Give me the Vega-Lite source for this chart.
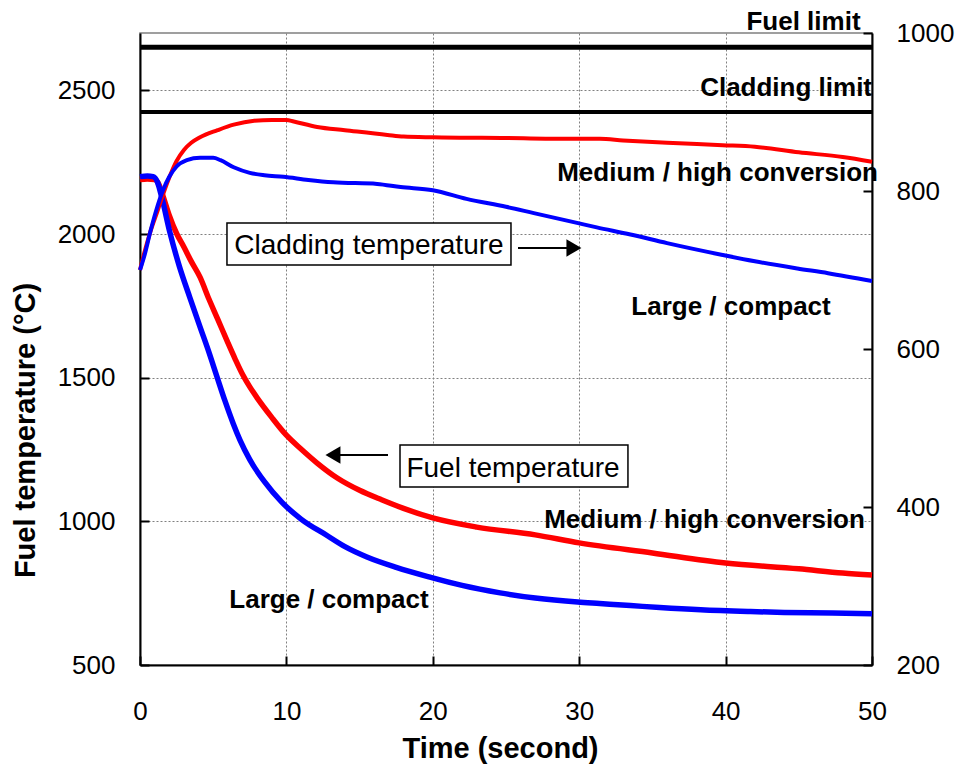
{
  "$schema": "https://vega.github.io/schema/vega-lite/v6.json",
  "width": 732,
  "height": 632,
  "autosize": {"type": "none"},
  "padding": {"left": 140, "top": 33, "right": 85, "bottom": 99},
  "background": "white",
  "config": {
    "view": {"stroke": "#808080", "strokeWidth": 1.5},
    "font": "Liberation Sans",
    "axis": {
      "labelFont": "Liberation Sans",
      "titleFont": "Liberation Sans",
      "labelFontSize": 26,
      "titleFontSize": 29,
      "titleFontWeight": "bold",
      "labelColor": "black",
      "titleColor": "black",
      "domainColor": "black",
      "domainWidth": 2,
      "tickColor": "black",
      "tickWidth": 2,
      "gridColor": "#808080",
      "gridDash": [2, 2],
      "gridWidth": 1,
      "labelOverlap": false,
      "format": "d"
    }
  },
  "datasets": {
    "fuel": [
      {"t": 0, "temp": 2190, "series": "Medium / high conversion"},
      {"t": 0.5, "temp": 2192, "series": "Medium / high conversion"},
      {"t": 1.0, "temp": 2190, "series": "Medium / high conversion"},
      {"t": 1.3, "temp": 2172, "series": "Medium / high conversion"},
      {"t": 1.6, "temp": 2128, "series": "Medium / high conversion"},
      {"t": 2.0, "temp": 2065, "series": "Medium / high conversion"},
      {"t": 2.5, "temp": 2002, "series": "Medium / high conversion"},
      {"t": 3.0, "temp": 1955, "series": "Medium / high conversion"},
      {"t": 3.5, "temp": 1905, "series": "Medium / high conversion"},
      {"t": 4.1, "temp": 1850, "series": "Medium / high conversion"},
      {"t": 4.7, "temp": 1775, "series": "Medium / high conversion"},
      {"t": 5.3, "temp": 1705, "series": "Medium / high conversion"},
      {"t": 6.0, "temp": 1622, "series": "Medium / high conversion"},
      {"t": 6.5, "temp": 1565, "series": "Medium / high conversion"},
      {"t": 7.0, "temp": 1512, "series": "Medium / high conversion"},
      {"t": 7.5, "temp": 1468, "series": "Medium / high conversion"},
      {"t": 8.0, "temp": 1430, "series": "Medium / high conversion"},
      {"t": 9.0, "temp": 1362, "series": "Medium / high conversion"},
      {"t": 10.0, "temp": 1300, "series": "Medium / high conversion"},
      {"t": 11.0, "temp": 1252, "series": "Medium / high conversion"},
      {"t": 12.1, "temp": 1203, "series": "Medium / high conversion"},
      {"t": 13.5, "temp": 1150, "series": "Medium / high conversion"},
      {"t": 15.0, "temp": 1108, "series": "Medium / high conversion"},
      {"t": 16.5, "temp": 1075, "series": "Medium / high conversion"},
      {"t": 18.0, "temp": 1045, "series": "Medium / high conversion"},
      {"t": 20, "temp": 1012, "series": "Medium / high conversion"},
      {"t": 23, "temp": 980, "series": "Medium / high conversion"},
      {"t": 27, "temp": 953, "series": "Medium / high conversion"},
      {"t": 30, "temp": 925, "series": "Medium / high conversion"},
      {"t": 35, "temp": 890, "series": "Medium / high conversion"},
      {"t": 40, "temp": 855, "series": "Medium / high conversion"},
      {"t": 45, "temp": 835, "series": "Medium / high conversion"},
      {"t": 48, "temp": 820, "series": "Medium / high conversion"},
      {"t": 50, "temp": 813, "series": "Medium / high conversion"},
      {"t": 0, "temp": 2200, "series": "Large / compact"},
      {"t": 0.5, "temp": 2202, "series": "Large / compact"},
      {"t": 0.9, "temp": 2200, "series": "Large / compact"},
      {"t": 1.2, "temp": 2180, "series": "Large / compact"},
      {"t": 1.5, "temp": 2125, "series": "Large / compact"},
      {"t": 2.05, "temp": 2004, "series": "Large / compact"},
      {"t": 2.7, "temp": 1886, "series": "Large / compact"},
      {"t": 3.4, "temp": 1780, "series": "Large / compact"},
      {"t": 4.1, "temp": 1677, "series": "Large / compact"},
      {"t": 4.7, "temp": 1590, "series": "Large / compact"},
      {"t": 5.26, "temp": 1503, "series": "Large / compact"},
      {"t": 5.8, "temp": 1420, "series": "Large / compact"},
      {"t": 6.37, "temp": 1340, "series": "Large / compact"},
      {"t": 6.83, "temp": 1283, "series": "Large / compact"},
      {"t": 7.5, "temp": 1215, "series": "Large / compact"},
      {"t": 8.5, "temp": 1138, "series": "Large / compact"},
      {"t": 9.7, "temp": 1066, "series": "Large / compact"},
      {"t": 11, "temp": 1008, "series": "Large / compact"},
      {"t": 12.8, "temp": 950, "series": "Large / compact"},
      {"t": 14, "temp": 912, "series": "Large / compact"},
      {"t": 15.5, "temp": 876, "series": "Large / compact"},
      {"t": 17.5, "temp": 840, "series": "Large / compact"},
      {"t": 19.8, "temp": 806, "series": "Large / compact"},
      {"t": 22, "temp": 777, "series": "Large / compact"},
      {"t": 24.6, "temp": 751, "series": "Large / compact"},
      {"t": 27, "temp": 733, "series": "Large / compact"},
      {"t": 29.9, "temp": 719, "series": "Large / compact"},
      {"t": 31.4, "temp": 714, "series": "Large / compact"},
      {"t": 33.5, "temp": 707, "series": "Large / compact"},
      {"t": 35.5, "temp": 700, "series": "Large / compact"},
      {"t": 38.3, "temp": 692, "series": "Large / compact"},
      {"t": 41.7, "temp": 686, "series": "Large / compact"},
      {"t": 44, "temp": 683, "series": "Large / compact"},
      {"t": 47.3, "temp": 681, "series": "Large / compact"},
      {"t": 50, "temp": 678, "series": "Large / compact"}
    ],
    "cladding": [
      {"t": 0, "temp": 700, "series": "Medium / high conversion"},
      {"t": 0.3, "temp": 722, "series": "Medium / high conversion"},
      {"t": 0.7, "temp": 748, "series": "Medium / high conversion"},
      {"t": 1.2, "temp": 775, "series": "Medium / high conversion"},
      {"t": 1.6, "temp": 797, "series": "Medium / high conversion"},
      {"t": 2.0, "temp": 817, "series": "Medium / high conversion"},
      {"t": 2.5, "temp": 838, "series": "Medium / high conversion"},
      {"t": 3.0, "temp": 852, "series": "Medium / high conversion"},
      {"t": 3.5, "temp": 861, "series": "Medium / high conversion"},
      {"t": 4.1, "temp": 868, "series": "Medium / high conversion"},
      {"t": 5.3, "temp": 877, "series": "Medium / high conversion"},
      {"t": 6.4, "temp": 884, "series": "Medium / high conversion"},
      {"t": 7.8, "temp": 889, "series": "Medium / high conversion"},
      {"t": 9, "temp": 890, "series": "Medium / high conversion"},
      {"t": 10, "temp": 890, "series": "Medium / high conversion"},
      {"t": 10.5, "temp": 888, "series": "Medium / high conversion"},
      {"t": 12.1, "temp": 881, "series": "Medium / high conversion"},
      {"t": 14, "temp": 877, "series": "Medium / high conversion"},
      {"t": 16.9, "temp": 871, "series": "Medium / high conversion"},
      {"t": 18, "temp": 869, "series": "Medium / high conversion"},
      {"t": 20, "temp": 868, "series": "Medium / high conversion"},
      {"t": 25, "temp": 867, "series": "Medium / high conversion"},
      {"t": 30, "temp": 866, "series": "Medium / high conversion"},
      {"t": 31.4, "temp": 866, "series": "Medium / high conversion"},
      {"t": 33, "temp": 864, "series": "Medium / high conversion"},
      {"t": 36, "temp": 861, "series": "Medium / high conversion"},
      {"t": 39.8, "temp": 858, "series": "Medium / high conversion"},
      {"t": 42, "temp": 856, "series": "Medium / high conversion"},
      {"t": 45, "temp": 849, "series": "Medium / high conversion"},
      {"t": 48, "temp": 843, "series": "Medium / high conversion"},
      {"t": 50, "temp": 837, "series": "Medium / high conversion"},
      {"t": 0, "temp": 700, "series": "Large / compact"},
      {"t": 0.3, "temp": 718, "series": "Large / compact"},
      {"t": 0.7, "temp": 748, "series": "Large / compact"},
      {"t": 1.1, "temp": 775, "series": "Large / compact"},
      {"t": 1.57, "temp": 801, "series": "Large / compact"},
      {"t": 2.0, "temp": 818, "series": "Large / compact"},
      {"t": 2.5, "temp": 831, "series": "Large / compact"},
      {"t": 3.2, "temp": 839, "series": "Large / compact"},
      {"t": 4.1, "temp": 842, "series": "Large / compact"},
      {"t": 5.0, "temp": 842, "series": "Large / compact"},
      {"t": 5.5, "temp": 839, "series": "Large / compact"},
      {"t": 6.4, "temp": 830, "series": "Large / compact"},
      {"t": 7.5, "temp": 823, "series": "Large / compact"},
      {"t": 8.5, "temp": 820, "series": "Large / compact"},
      {"t": 9.8, "temp": 818, "series": "Large / compact"},
      {"t": 11.5, "temp": 814, "series": "Large / compact"},
      {"t": 13.2, "temp": 811, "series": "Large / compact"},
      {"t": 16.2, "temp": 809, "series": "Large / compact"},
      {"t": 17.8, "temp": 805, "series": "Large / compact"},
      {"t": 20, "temp": 801, "series": "Large / compact"},
      {"t": 22.3, "temp": 790, "series": "Large / compact"},
      {"t": 25, "temp": 780, "series": "Large / compact"},
      {"t": 26.9, "temp": 772, "series": "Large / compact"},
      {"t": 30, "temp": 759, "series": "Large / compact"},
      {"t": 31.2, "temp": 754, "series": "Large / compact"},
      {"t": 33.5, "temp": 745, "series": "Large / compact"},
      {"t": 36, "temp": 734, "series": "Large / compact"},
      {"t": 39.8, "temp": 719, "series": "Large / compact"},
      {"t": 42, "temp": 711, "series": "Large / compact"},
      {"t": 44.9, "temp": 702, "series": "Large / compact"},
      {"t": 47, "temp": 696, "series": "Large / compact"},
      {"t": 50, "temp": 686, "series": "Large / compact"}
    ],
    "labels": [
      {"t": 45.32, "temp": 2712, "text": "Fuel limit"},
      {"t": 44.13, "temp": 2481, "text": "Cladding limit"},
      {"t": 39.45, "temp": 2186, "text": "Medium / high conversion"},
      {"t": 40.37, "temp": 1718, "text": "Large / compact"},
      {"t": 38.56, "temp": 976, "text": "Medium / high conversion"},
      {"t": 12.91, "temp": 697, "text": "Large / compact"}
    ],
    "boxes": [
      {"t": 5.94, "t2": 25.34, "temp": 2038.6, "temp2": 1892.4, "tc": 15.64, "tempc": 1930.7, "text": "Cladding temperature"},
      {"t": 17.76, "t2": 33.33, "temp": 1265.8, "temp2": 1119.6, "tc": 25.48, "tempc": 1155.6, "text": "Fuel temperature"}
    ],
    "arrows": [
      {"t": 25.82, "t2": 29.4, "temp": 1951.6, "head": 29.64, "dir": "right"},
      {"t": 16.94, "t2": 13.4, "temp": 1231, "head": 13.18, "dir": "left"}
    ]
  },
  "resolve": {"scale": {"y": "independent"}},
  "layer": [
    {
      "layer": [
        {
          "data": {"name": "fuel"},
          "mark": {"type": "line", "strokeWidth": 5.5, "interpolate": "monotone"},
          "encoding": {
            "x": {
              "field": "t",
              "type": "quantitative",
              "scale": {"domain": [0, 50], "nice": false, "padding": 0},
              "axis": {
                "title": "Time (second)",
                "values": [0, 10, 20, 30, 40, 50],
                "grid": true,
                "tickSize": -9,
                "labelPadding": 42,
                "labelFlush": false,
                "titleX": 360,
                "titleY": 92,
                "titleAlign": "center",
                "titleBaseline": "alphabetic"
              }
            },
            "y": {
              "field": "temp",
              "type": "quantitative",
              "scale": {"domain": [500, 2700], "nice": false, "padding": 0, "zero": false},
              "axis": {
                "orient": "left",
                "title": "Fuel temperature (°C)",
                "values": [500, 1000, 1500, 2000, 2500],
                "grid": true,
                "tickSize": -9,
                "labelPadding": 34,
                "titleX": -106,
                "titleY": 397,
                "titleAngle": 270,
                "titleAlign": "center",
                "titleBaseline": "alphabetic"
              }
            },
            "color": {
              "field": "series",
              "type": "nominal",
              "scale": {"domain": ["Medium / high conversion", "Large / compact"], "range": ["#FF0000", "#0000FF"]},
              "legend": null
            }
          }
        },
        {
          "data": {"values": [{"temp": 2650}]},
          "mark": {"type": "rule", "strokeWidth": 5, "color": "black"},
          "encoding": {"y": {"field": "temp", "type": "quantitative"}}
        },
        {
          "data": {"name": "boxes"},
          "mark": {"type": "rect", "fill": "white", "stroke": "black", "strokeWidth": 1.5},
          "encoding": {
            "x": {"field": "t", "type": "quantitative"},
            "x2": {"field": "t2"},
            "y": {"field": "temp", "type": "quantitative"},
            "y2": {"field": "temp2"}
          }
        },
        {
          "data": {"name": "boxes"},
          "mark": {"type": "text", "font": "Liberation Sans", "fontSize": 28, "align": "center", "baseline": "alphabetic", "color": "black"},
          "encoding": {
            "x": {"field": "tc", "type": "quantitative"},
            "y": {"field": "tempc", "type": "quantitative"},
            "text": {"field": "text"}
          }
        },
        {
          "data": {"name": "arrows"},
          "mark": {"type": "rule", "strokeWidth": 2, "color": "black"},
          "encoding": {
            "x": {"field": "t", "type": "quantitative"},
            "x2": {"field": "t2"},
            "y": {"field": "temp", "type": "quantitative"}
          }
        },
        {
          "data": {"name": "arrows"},
          "mark": {"type": "point", "filled": true, "color": "black", "size": 300, "opacity": 1},
          "encoding": {
            "x": {"field": "head", "type": "quantitative"},
            "y": {"field": "temp", "type": "quantitative"},
            "shape": {"field": "dir", "type": "nominal", "scale": {"domain": ["right", "left"], "range": ["triangle-right", "triangle-left"]}, "legend": null}
          }
        },
        {
          "data": {"name": "labels"},
          "mark": {"type": "text", "font": "Liberation Sans", "fontSize": 26, "fontWeight": "bold", "align": "center", "baseline": "alphabetic", "color": "black"},
          "encoding": {
            "x": {"field": "t", "type": "quantitative"},
            "y": {"field": "temp", "type": "quantitative"},
            "text": {"field": "text"}
          }
        }
      ]
    },
    {
      "layer": [
        {
          "data": {"name": "cladding"},
          "mark": {"type": "line", "strokeWidth": 4, "interpolate": "monotone"},
          "encoding": {
            "x": {"field": "t", "type": "quantitative"},
            "y": {
              "field": "temp",
              "type": "quantitative",
              "scale": {"domain": [200, 1000], "nice": false, "padding": 0, "zero": false},
              "axis": {
                "orient": "right",
                "title": null,
                "values": [200, 400, 600, 800, 1000],
                "grid": false,
                "tickSize": -9,
                "labelPadding": 33
              }
            },
            "color": {"field": "series", "type": "nominal", "legend": null}
          }
        },
        {
          "data": {"values": [{"temp": 900}]},
          "mark": {"type": "rule", "strokeWidth": 4, "color": "black"},
          "encoding": {"y": {"field": "temp", "type": "quantitative"}}
        }
      ]
    }
  ]
}
